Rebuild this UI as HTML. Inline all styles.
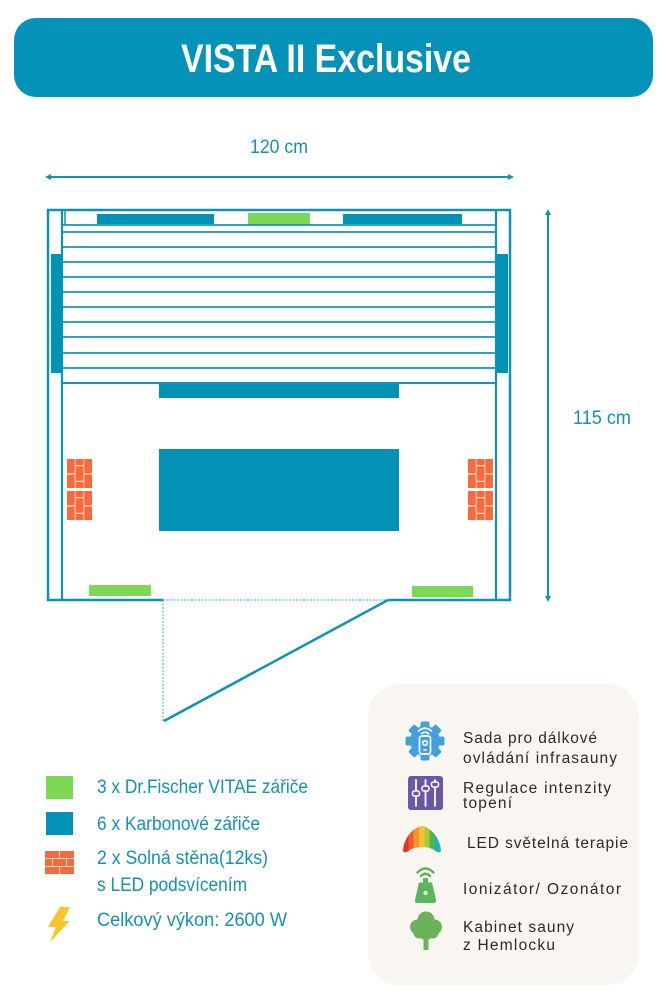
<!DOCTYPE html>
<html>
<head>
<meta charset="utf-8">
<style>
  html,body{margin:0;padding:0;background:#ffffff;}
  svg{display:block;}
  text{font-family:"Liberation Sans","Noto Sans CJK SC",sans-serif;}
</style>
</head>
<body>
<svg width="666" height="1000" viewBox="0 0 666 1000" xmlns="http://www.w3.org/2000/svg">
  <defs>
    <g id="bk">
      <rect x="0" y="0" width="25" height="29" fill="#fcd6c8"/>
      <rect x="0" y="0" width="7.7" height="14.3" fill="#f76a3b"/>
      <rect x="0" y="15.7" width="7.7" height="13.3" fill="#f76a3b"/>
      <rect x="8.7" y="0" width="7.7" height="6" fill="#f76a3b"/>
      <rect x="8.7" y="7.3" width="7.7" height="14.4" fill="#f76a3b"/>
      <rect x="8.7" y="23" width="7.7" height="6" fill="#f76a3b"/>
      <rect x="17.3" y="0" width="7.7" height="14.3" fill="#f76a3b"/>
      <rect x="17.3" y="15.7" width="7.7" height="13.3" fill="#f76a3b"/>
    </g>
    <linearGradient id="rb" gradientUnits="userSpaceOnUse" x1="403" y1="0" x2="441" y2="0">
      <stop offset="0" stop-color="#e5332c"/>
      <stop offset="0.14" stop-color="#e5332c"/>
      <stop offset="0.14" stop-color="#f15a2b"/>
      <stop offset="0.28" stop-color="#f15a2b"/>
      <stop offset="0.28" stop-color="#f7922c"/>
      <stop offset="0.42" stop-color="#f7922c"/>
      <stop offset="0.42" stop-color="#f8c12f"/>
      <stop offset="0.56" stop-color="#f8c12f"/>
      <stop offset="0.56" stop-color="#a6cb3c"/>
      <stop offset="0.7" stop-color="#a6cb3c"/>
      <stop offset="0.7" stop-color="#4db649"/>
      <stop offset="0.84" stop-color="#4db649"/>
      <stop offset="0.84" stop-color="#2aa9c9"/>
      <stop offset="1" stop-color="#2aa9c9"/>
    </linearGradient>
  </defs>

  <!-- Header -->
  <rect x="14" y="18" width="639" height="79" rx="22" fill="#0492b8"/>
  <text x="181" y="72" font-size="40" font-weight="bold" fill="#ffffff" textLength="290" lengthAdjust="spacingAndGlyphs">VISTA II Exclusive</text>

  <!-- Dimensions -->
  <text x="250" y="153" font-size="19" fill="#1590b5" textLength="58" lengthAdjust="spacingAndGlyphs">120 cm</text>
  <line x1="48" y1="177" x2="511" y2="177" stroke="#0b93b8" stroke-width="2"/>
  <polygon points="45,177 51,174 51,180" fill="#0b93b8"/>
  <polygon points="514,177 508,174 508,180" fill="#0b93b8"/>

  <line x1="548" y1="212" x2="548" y2="599" stroke="#0b93b8" stroke-width="2"/>
  <polygon points="548,209 545,215 551,215" fill="#0b93b8"/>
  <polygon points="548,602 545,596 551,596" fill="#0b93b8"/>
  <text x="573" y="424" font-size="19" fill="#1590b5" textLength="58" lengthAdjust="spacingAndGlyphs">115 cm</text>

  <!-- Floor plan frame -->
  <g stroke="#0b93b8" fill="none">
    <line x1="48" y1="209" x2="48" y2="601" stroke-width="2.5"/>
    <line x1="510" y1="209" x2="510" y2="601" stroke-width="2.5"/>
    <line x1="47" y1="210" x2="511" y2="210" stroke-width="2.5"/>
    <line x1="62" y1="210" x2="62" y2="600" stroke-width="2.2"/>
    <line x1="496" y1="210" x2="496" y2="600" stroke-width="2.2"/>
    <line x1="65" y1="211" x2="65" y2="225" stroke-width="1.5"/>
    <line x1="47" y1="600" x2="163" y2="600" stroke-width="2.5"/>
    <line x1="388" y1="600" x2="511" y2="600" stroke-width="2.5"/>
  </g>

  <!-- top heaters -->
  <rect x="97" y="214" width="117" height="10" fill="#0391b5"/>
  <rect x="248" y="213" width="62" height="12" fill="#7dd856"/>
  <rect x="343" y="214" width="119" height="10" fill="#0391b5"/>

  <!-- bench lines -->
  <g stroke="#1195b9" stroke-width="1.7">
    <line x1="63" y1="225" x2="496" y2="225"/>
    <line x1="63" y1="232" x2="496" y2="232"/>
    <line x1="63" y1="247" x2="496" y2="247"/>
    <line x1="63" y1="262" x2="496" y2="262"/>
    <line x1="63" y1="277" x2="496" y2="277"/>
    <line x1="63" y1="292" x2="496" y2="292"/>
    <line x1="63" y1="307" x2="496" y2="307"/>
    <line x1="63" y1="322" x2="496" y2="322"/>
    <line x1="63" y1="337" x2="496" y2="337"/>
    <line x1="63" y1="353" x2="496" y2="353"/>
    <line x1="63" y1="368" x2="496" y2="368"/>
    <line x1="63" y1="383" x2="496" y2="383" stroke-width="2"/>
  </g>

  <!-- side heaters -->
  <rect x="51" y="254" width="11" height="119" fill="#0391b5"/>
  <rect x="497" y="254" width="11" height="119" fill="#0391b5"/>

  <!-- lower heaters -->
  <rect x="159" y="384" width="240" height="14" fill="#0391b5"/>
  <rect x="159" y="449" width="240" height="82" fill="#0391b5"/>

  <!-- salt walls -->
  <use href="#bk" x="67" y="459"/>
  <use href="#bk" x="67" y="491"/>
  <use href="#bk" x="468" y="459"/>
  <use href="#bk" x="468" y="491"/>

  <!-- bottom green heaters -->
  <rect x="89" y="585" width="62" height="11" fill="#7dd856"/>
  <rect x="412" y="586" width="61" height="11" fill="#7dd856"/>

  <!-- door -->
  <g stroke="#3aa7c8" stroke-width="1" stroke-dasharray="2,1.5" fill="none">
    <line x1="163" y1="600" x2="388" y2="600"/>
    <line x1="163" y1="600" x2="163" y2="721"/>
  </g>
  <line x1="164" y1="721" x2="388" y2="600" stroke="#0b93b8" stroke-width="2.5"/>

  <!-- Legend -->
  <rect x="46" y="776" width="27" height="23" fill="#7dd856"/>
  <rect x="46" y="812" width="27" height="23" fill="#0391b5"/>
  <g>
    <rect x="45" y="851" width="29" height="23" fill="#fcd6c8"/>
    <rect x="45" y="851" width="14" height="7" fill="#f76a3b"/>
    <rect x="60" y="851" width="14" height="7" fill="#f76a3b"/>
    <rect x="45" y="859" width="7" height="7" fill="#f76a3b"/>
    <rect x="53" y="859" width="13" height="7" fill="#f76a3b"/>
    <rect x="67" y="859" width="7" height="7" fill="#f76a3b"/>
    <rect x="45" y="867" width="14" height="7" fill="#f76a3b"/>
    <rect x="60" y="867" width="14" height="7" fill="#f76a3b"/>
  </g>
  <polygon points="60,907 70,907 63,921 70,921 50,942 56,927 48,927" fill="#f9c52a"/>

  <g font-size="19" fill="#1590b5">
    <text x="97" y="793" textLength="211" lengthAdjust="spacingAndGlyphs">3 x Dr.Fischer VITAE zářiče</text>
    <text x="97" y="830" textLength="163" lengthAdjust="spacingAndGlyphs">6 x Karbonové zářiče</text>
    <text x="97" y="864" textLength="171" lengthAdjust="spacingAndGlyphs">2 x Solná stěna(12ks)</text>
    <text x="97" y="891" textLength="150" lengthAdjust="spacingAndGlyphs">s LED podsvícením</text>
    <text x="97" y="926" textLength="190" lengthAdjust="spacingAndGlyphs">Celkový výkon: 2600 W</text>
  </g>

  <!-- Right panel -->
  <rect x="368" y="684" width="271" height="301" rx="32" fill="#f9f6f2"/>

  <!-- gear icon -->
  <g fill="#42a0dc">
    <circle cx="425" cy="741" r="15"/>
    <g transform="translate(425 741)">
      <rect x="-4.5" y="-19.5" width="9" height="39" rx="2"/>
      <rect x="-4.5" y="-19.5" width="9" height="39" rx="2" transform="rotate(45)"/>
      <rect x="-4.5" y="-19.5" width="9" height="39" rx="2" transform="rotate(90)"/>
      <rect x="-4.5" y="-19.5" width="9" height="39" rx="2" transform="rotate(135)"/>
    </g>
  </g>
  <g stroke="#ffffff" fill="none" stroke-width="1.7" stroke-linecap="round">
    <rect x="419.5" y="736" width="11" height="18" rx="2.5"/>
    <circle cx="425" cy="743" r="2.3"/>
    <line x1="424" y1="750" x2="426" y2="750"/>
    <path d="M418.5,731 Q425,725.5 431.5,731"/>
    <path d="M421.5,733.5 Q425,731 428.5,733.5"/>
  </g>

  <!-- slider icon -->
  <rect x="408" y="776" width="35" height="34" rx="3" fill="#6c56a8"/>
  <g stroke="#ffffff" stroke-width="1.8" stroke-linecap="round">
    <line x1="416" y1="780" x2="416" y2="806"/>
    <line x1="425.5" y1="780" x2="425.5" y2="806"/>
    <line x1="435" y1="780" x2="435" y2="806"/>
  </g>
  <g fill="#6c56a8" stroke="#ffffff" stroke-width="1.5">
    <rect x="412.5" y="791" width="7" height="5" rx="2"/>
    <rect x="422" y="786" width="7" height="5" rx="2"/>
    <rect x="431.5" y="782" width="7" height="5" rx="2"/>
  </g>

  <!-- rainbow -->
  <path d="M403,850 C405,833 418,826 422,826 C426,826 439,833 441,850 C441,853 438,852.5 436,851.5 C430,845.5 414,845.5 408,851.5 C406,852.5 403,853 403,850 Z" fill="url(#rb)"/>

  <!-- ionizer -->
  <g fill="none" stroke="#5bb55a" stroke-width="2.4" stroke-linecap="round">
    <path d="M417.5,872.5 Q425.5,864.5 433.5,872.5"/>
    <path d="M421,876 Q425.5,871.5 430,876"/>
  </g>
  <rect x="423" y="878" width="5" height="5" fill="#5bb55a"/>
  <path d="M419,882.5 L432,882.5 L436,900 Q436.5,903 433,903 L418,903 Q414.5,903 415,900 Z" fill="#5bb55a"/>
  <circle cx="425.5" cy="893" r="2" fill="#ffffff"/>

  <!-- tree -->
  <g fill="#6bb25a">
    <rect x="423.5" y="930" width="5" height="20"/>
    <circle cx="426" cy="920" r="8.5"/>
    <circle cx="417.5" cy="927" r="7.5"/>
    <circle cx="434.5" cy="927" r="7.5"/>
    <circle cx="426" cy="932" r="8"/>
    <circle cx="419" cy="933" r="5.5"/>
    <circle cx="433" cy="933" r="5.5"/>
  </g>

  <g font-size="15.5" fill="#2a2a2a">
    <text x="463" y="743" textLength="134" lengthAdjust="spacing">Sada pro dálkové</text>
    <text x="463" y="763" textLength="154" lengthAdjust="spacing">ovládání infrasauny</text>
    <text x="463" y="793" textLength="148" lengthAdjust="spacing">Regulace intenzity</text>
    <text x="463" y="808" textLength="49" lengthAdjust="spacing">topení</text>
    <text x="467" y="848" textLength="161" lengthAdjust="spacing">LED světelná terapie</text>
    <text x="463" y="894" textLength="158" lengthAdjust="spacing">Ionizátor/ Ozonátor</text>
    <text x="463" y="932" textLength="111" lengthAdjust="spacing">Kabinet sauny</text>
    <text x="463" y="950" textLength="92" lengthAdjust="spacing">z Hemlocku</text>
  </g>
</svg>
</body>
</html>
